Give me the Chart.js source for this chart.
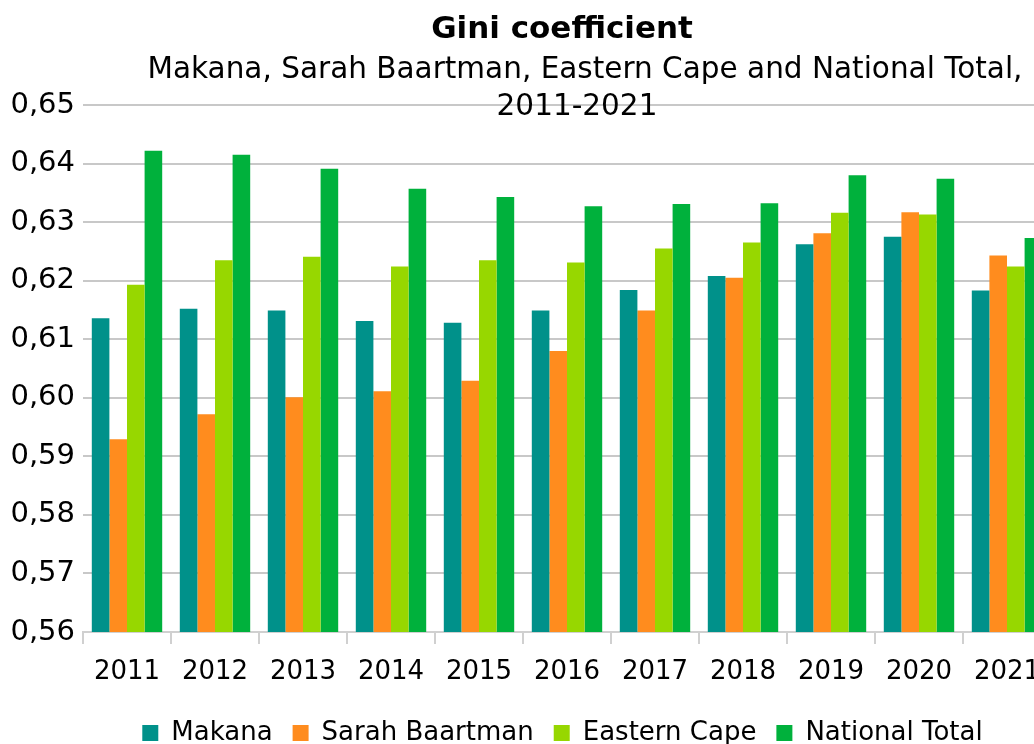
<!DOCTYPE html>
<html>
<head>
<meta charset="utf-8">
<script src="https://cdn.jsdelivr.net/npm/chart.js@4"></script>
<style>
    html, body { margin: 0; padding: 0; background: #fff; overflow: hidden; }
    #wrap { width: 1100px; height: 744px; position: relative; }
</style>
</head>
<body>
<div id="wrap"><canvas id="giniChart"></canvas></div>
<script>
let years = ['2011', '2012', '2013', '2014', '2015', '2016', '2017', '2018', '2019', '2020', '2021']
let makana = [0.6136, 0.6152, 0.6149, 0.6131, 0.6128, 0.6149, 0.6184, 0.6208, 0.6262, 0.6275, 0.6183]
let sarahBaartman = [0.5929, 0.5972, 0.6001, 0.6011, 0.6029, 0.6080, 0.6149, 0.6205, 0.6281, 0.6317, 0.6243]
let easternCape = [0.6193, 0.6235, 0.6241, 0.6224, 0.6235, 0.6231, 0.6255, 0.6265, 0.6316, 0.6313, 0.6224]
let nationalTotal = [0.6422, 0.6415, 0.6391, 0.6357, 0.6343, 0.6327, 0.6331, 0.6332, 0.6380, 0.6374, 0.6273]

let titleText = 'Gini coefficient'
let subtitleLines = ['Makana, Sarah Baartman, Eastern Cape and National Total,', '2011-2021']

const fontName = 'DejaVu Sans, Verdana, sans-serif'

// title + subtitle sit on top of the plot, drawn after everything else
const titlePlugin = {
    id: 'titleOverlay',
    afterDraw(chart) {
        const ctx = chart.ctx
        ctx.save()
        ctx.fillStyle = '#000'
        ctx.textAlign = 'center'
        ctx.textBaseline = 'middle'
        ctx.font = 'bold 31px ' + fontName
        ctx.fillText(titleText, 562, 30)
        ctx.font = '29.5px ' + fontName
        ctx.fillText(subtitleLines[0], 585, 70)
        ctx.fillText(subtitleLines[1], 577, 107)
        ctx.restore()
    }
}

// legend in the original is centred on the visible page, not on the plot box
const legendShift = {
    id: 'legendShift',
    afterLayout(chart) {
        chart.legend.left += 37
        chart.legend.right += 37
    }
}

let ctx = document.getElementById('giniChart').getContext('2d')

let chart = new Chart(ctx, {
    type: 'bar',
    data: {
        labels: years,
        datasets: [
            { label: 'Makana', data: makana, backgroundColor: '#00918A' },
            { label: 'Sarah Baartman', data: sarahBaartman, backgroundColor: '#FF8C1E' },
            { label: 'Eastern Cape', data: easternCape, backgroundColor: '#97D700' },
            { label: 'National Total', data: nationalTotal, backgroundColor: '#00B13C' }
        ]
    },
    options: {
        responsive: true,
        maintainAspectRatio: false,
        animation: false,
        layout: { padding: { top: 105, right: 49, left: 0, bottom: -12 } },
        datasets: {
            bar: { categoryPercentage: 0.8, barPercentage: 1.0 }
        },
        scales: {
            x: {
                afterFit(scale) { scale.height = 68 },
                grid: { display: true, drawOnChartArea: false, tickLength: 12, color: '#d0d0d0', lineWidth: 2 },
                border: { display: true, color: '#d0d0d0', width: 2 },
                ticks: { color: '#000', font: { family: fontName, size: 26 }, padding: 13, maxRotation: 0 }
            },
            y: {
                min: 0.56,
                max: 0.65,
                afterFit(scale) { scale.width = 83 },
                grid: { color: '#c8c8c8', lineWidth: 2, drawTicks: false },
                border: { display: false },
                ticks: {
                    stepSize: 0.01,
                    padding: 8,
                    color: '#000',
                    font: { family: fontName, size: 29 },
                    callback: v => v.toFixed(2).replace('.', ',')
                }
            }
        },
        plugins: {
            title: { display: false },
            tooltip: { enabled: false },
            legend: {
                position: 'bottom',
                labels: {
                    color: '#000',
                    font: { family: fontName, size: 26 },
                    boxWidth: 16,
                    boxHeight: 16,
                    padding: 20
                }
            }
        }
    },
    plugins: [titlePlugin, legendShift]
})
</script>
</body>
</html>
